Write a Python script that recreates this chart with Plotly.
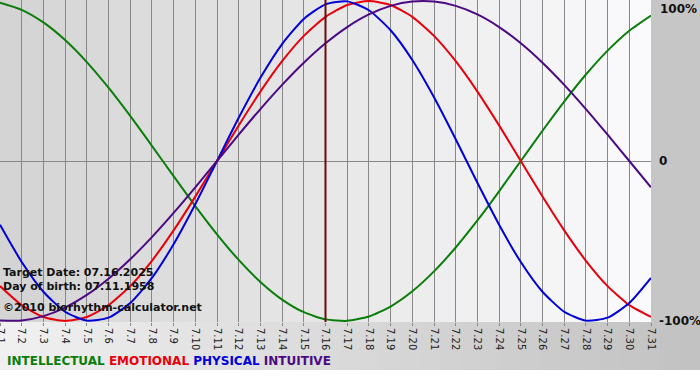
import plotly.graph_objects as go

# ---- data (values in percent, one per day of July 2025) ----
days = list(range(1, 32))
day_labels = ["7.%d" % d for d in days]

intellectual = [98.98, 94.50, 86.60, 75.57, 61.82, 45.82, 28.17, 9.50, -9.50, -28.17,
                -45.82, -61.82, -75.57, -86.60, -94.50, -98.98, -99.89, -97.18, -90.96, -81.46,
                -69.01, -54.06, -37.17, -18.93, 0.00, 18.93, 37.17, 54.06, 69.01, 81.46, 90.96]
emotional = [-78.18, -90.10, -97.49, -100.0, -97.49, -90.10, -78.18, -62.35, -43.39, -22.25,
             0.00, 22.25, 43.39, 62.35, 78.18, 90.10, 97.49, 100.0, 97.49, 90.10,
             78.18, 62.35, 43.39, 22.25, 0.00, -22.25, -43.39, -62.35, -78.18, -90.10, -97.49]
physical = [-39.84, -63.11, -81.70, -94.22, -99.77, -97.91, -88.79, -73.08, -51.96, -26.98,
            0.00, 26.98, 51.96, 73.08, 88.79, 97.91, 99.77, 94.22, 81.70, 63.11,
            39.84, 13.62, -13.62, -39.84, -63.11, -81.70, -94.22, -99.77, -97.91, -88.79, -73.08]
intuitive = [-99.66, -99.66, -96.94, -91.58, -83.72, -73.57, -61.42, -47.59, -32.47, -16.46,
             0.00, 16.46, 32.47, 47.59, 61.42, 73.57, 83.72, 91.58, 96.94, 99.66,
             99.66, 96.94, 91.58, 83.72, 73.57, 61.42, 47.59, 32.47, 16.46, 0.00, -16.46]

series_names = ["INTELLECTUAL", "EMOTIONAL", "PHYSICAL", "INTUITIVE"]
series_colors = ["#0a7d0a", "#e8000b", "#0000d8", "#4b0a82"]

target_day = 16
y_tick_vals = [100, 0, -100]
y_tick_text = ["100%", "0", "-100%"]
info_lines = ["Target Date: 07.16.2025", "Day of birth: 07.11.1958", "\u00a92010 biorhythm-calculator.net"]

W, H = 700, 380
PL, PR, PT, PB = 0, 49, 0, 58
plot_h = H - PT - PB

fig = go.Figure()
for name, vals, col in zip(series_names, [intellectual, emotional, physical, intuitive], series_colors):
    fig.add_trace(go.Scatter(x=days, y=vals, mode="lines", name=name,
                             line=dict(color=col, width=2, shape="spline", smoothing=0.6),
                             hoverinfo="skip", showlegend=False))

shapes = []
# plot-area gradient (per day column), light at right
n = len(days) - 1
for i in range(n):
    f = i / (n - 1)
    g0 = (212, 212, 212)
    g1 = (250, 250, 252)
    c = tuple(int(round(a + (b - a) * f)) for a, b in zip(g0, g1))
    shapes.append(dict(type="rect", xref="x", yref="paper", x0=days[i], x1=days[i + 1], y0=0, y1=1,
                       fillcolor="rgb(%d,%d,%d)" % c, line=dict(width=0), layer="below"))
# bottom strip gradient (paper area under plot)
steps = 35
strip_top = 0.0
strip_bot = -(H - PT - plot_h - 10) / plot_h
for i in range(steps):
    f = i / (steps - 1)
    g0 = (240, 240, 240)
    g1 = (194, 194, 194)
    c = tuple(int(round(a + (b - a) * f)) for a, b in zip(g0, g1))
    x0 = (i * W / steps - PL) / (W - PL - PR)
    x1 = ((i + 1) * W / steps - PL) / (W - PL - PR)
    shapes.append(dict(type="rect", xref="paper", yref="paper", x0=x0, x1=x1 + 0.002,
                       y0=strip_bot, y1=strip_top, fillcolor="rgb(%d,%d,%d)" % c,
                       line=dict(width=0), layer="below"))
# white band at very bottom
shapes.append(dict(type="rect", xref="paper", yref="paper", x0=-0.01, x1=W / (W - PR) + 0.01,
                   y0=-(H - PT) / plot_h - 0.05, y1=strip_bot, fillcolor="white",
                   line=dict(width=0), layer="below"))
# target day marker
shapes.append(dict(type="line", xref="x", yref="paper", x0=target_day, x1=target_day, y0=0, y1=1,
                   line=dict(color="#6a0c0c", width=2), layer="above"))

annotations = []
for v, t in zip(y_tick_vals, y_tick_text):
    annotations.append(dict(xref="paper", yref="y", x=1, y=v, text="<b>%s</b>" % t, showarrow=False,
                            xanchor="left", yanchor="top" if v == 100 else "middle",
                            xshift=6 if v != 100 else 7, yshift=0 if v != 100 else 1,
                            font=dict(family="DejaVu Sans", size=12, color="#111111")))
info_y_px = [272, 286, 307]
for txt, ypx in zip(info_lines, info_y_px):
    annotations.append(dict(xref="paper", yref="paper", x=0, xshift=1, y=(plot_h - ypx) / plot_h,
                            text="<b>%s</b>" % txt, showarrow=False, xanchor="left", yanchor="middle",
                            font=dict(family="DejaVu Sans", size=11, color="#111111")))
legend_html = "&nbsp;".join('<span style="color:%s">%s</span>' % (c, n_) for n_, c in zip(series_names, series_colors))
annotations.append(dict(xref="paper", yref="paper", x=0, xshift=5, y=(plot_h - 361) / plot_h,
                        text="<b>%s</b>" % legend_html, showarrow=False, xanchor="left", yanchor="middle",
                        font=dict(family="DejaVu Sans", size=12)))

fig.update_layout(
    width=W, height=H,
    margin=dict(l=PL, r=PR, t=PT, b=PB, pad=0, autoexpand=False),
    paper_bgcolor="#c6c6c6", plot_bgcolor="#e6e6e6",
    shapes=shapes, annotations=annotations,
    xaxis=dict(range=[1, 31], tickvals=days, ticktext=day_labels, tickangle=90,
               showgrid=True, gridcolor="#888888", gridwidth=1, zeroline=False,
               ticks="outside", ticklen=3, tickcolor="#888888", ticklabeloverflow="allow",
               tickfont=dict(family="DejaVu Sans", size=10, color="#222222"),
               showline=False, fixedrange=True, automargin=False),
    yaxis=dict(range=[-100.625, 100.625], tickvals=y_tick_vals, showticklabels=False,
               showgrid=True, gridcolor="#888888", gridwidth=1, zeroline=False,
               showline=False, fixedrange=True, automargin=False),
    showlegend=False,
)

fig.write_html("out.html", config={"displayModeBar": False},
               post_script="document.body.style.margin='0';document.body.style.padding='0';document.body.style.overflow='hidden';")
